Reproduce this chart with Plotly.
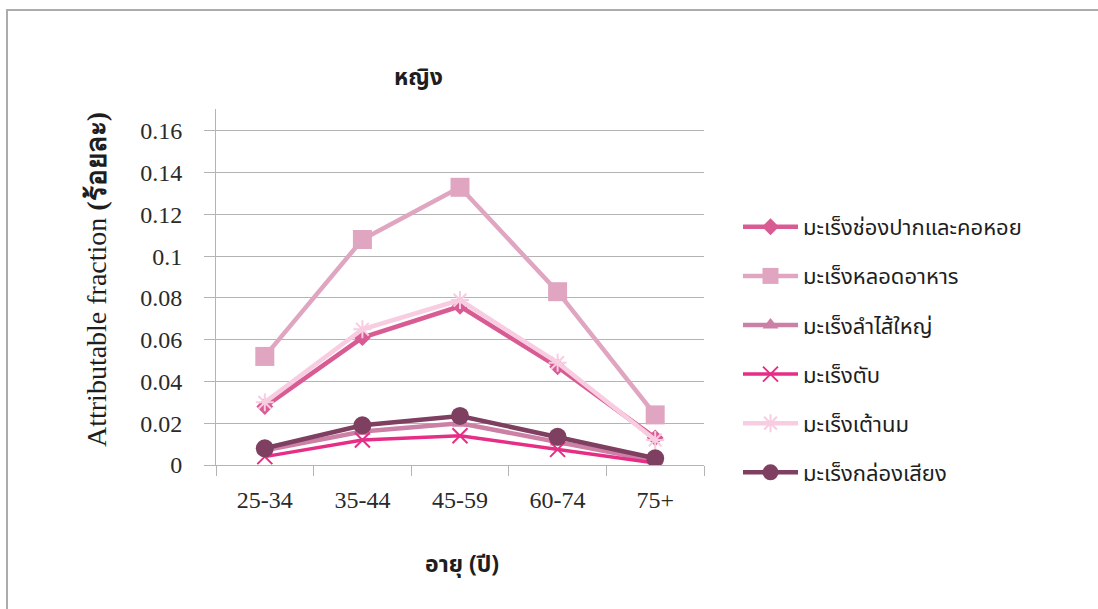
import plotly.graph_objects as go

categories = ["25-34", "35-44", "45-59", "60-74", "75+"]

series_names = [
    "มะเร็งช่องปากและคอหอย",
    "มะเร็งหลอดอาหาร",
    "มะเร็งลำไส้ใหญ่",
    "มะเร็งตับ",
    "มะเร็งเต้านม",
    "มะเร็งกล่องเสียง",
]

mouth_throat = [0.028, 0.061, 0.076, 0.047, 0.013]
esophagus = [0.052, 0.108, 0.133, 0.083, 0.024]
colorectal = [0.007, 0.016, 0.020, 0.011, 0.002]
liver = [0.004, 0.012, 0.014, 0.0075, 0.001]
breast = [0.030, 0.065, 0.079, 0.049, 0.012]
larynx = [0.008, 0.019, 0.0235, 0.0135, 0.0032]

y_ticks = [0, 0.02, 0.04, 0.06, 0.08, 0.1, 0.12, 0.14, 0.16]
y_tick_text = ["0", "0.02", "0.04", "0.06", "0.08", "0.1", "0.12", "0.14", "0.16"]

title_text = "หญิง"
x_title = "อายุ (ปี)"
y_title_latin = "Attributable fraction"
y_title_thai = "(ร้อยละ)"

THAI = "Tahoma, 'Noto Sans Thai', 'Noto Sans Thai UI', 'Noto Sans', 'DejaVu Sans', sans-serif"
SERIF = "'Liberation Serif', 'DejaVu Serif', serif"

styles = [
    dict(color="#D85C93", symbol="diamond", size=13, lw=4.5),
    dict(color="#E0A6C1", symbol="square", size=19, lw=4.5),
    dict(color="#CC80A6", symbol="triangle-up", size=14, lw=4.5),
    dict(color="#E62E87", symbol="x-thin-open", size=15, lw=3.5),
    dict(color="#F8CCE1", symbol="asterisk-open", size=15, lw=4.5),
    dict(color="#7E3F60", symbol="circle", size=18, lw=4.5),
]
values = [mouth_throat, esophagus, colorectal, liver, breast, larynx]

fig = go.Figure()
for i, (name, vals, st) in enumerate(zip(series_names, values, styles)):
    marker = dict(color=st["color"], symbol=st["symbol"], size=st["size"])
    if "open" in st["symbol"]:
        marker["line"] = dict(color=st["color"], width=2)
    fig.add_trace(go.Scatter(
        x=categories, y=vals, name=name, mode="lines+markers",
        line=dict(color=st["color"], width=st["lw"]),
        marker=marker, legendgroup=f"g{i}",
    ))

L, R, T, B = 216, 394, 109, 144
W, H = 1098, 609
pw, ph = W - L - R, H - T - B

def px(x):
    return (x - L) / pw

def py(y):
    return (H - B - y) / ph

fig.update_layout(
    width=W, height=H,
    margin=dict(l=L, r=R, t=T, b=B),
    paper_bgcolor="white", plot_bgcolor="white",
    showlegend=True,
    legend=dict(
        x=px(738), y=py(206), xanchor="left", yanchor="top",
        font=dict(family=THAI, size=22, color="#1E1E1E"),
        itemwidth=55, tracegroupgap=17.5, bgcolor="rgba(0,0,0,0)",
    ),
    xaxis=dict(
        type="category", range=[-0.5, 4.5],
        showline=True, linecolor="#B4B4B4", linewidth=1,
        ticks="outside", ticklen=10, tickcolor="#B4B4B4", tickson="boundaries",
        showgrid=False, zeroline=False,
        tickfont=dict(family=SERIF, size=24, color="#2A2A2A"),
        ticklabelstandoff=13,
    ),
    yaxis=dict(
        range=[0, 0.1705],
        tickvals=y_ticks, ticktext=y_tick_text,
        showline=True, linecolor="#B4B4B4", linewidth=1,
        ticks="outside", ticklen=11, tickcolor="#B4B4B4",
        showgrid=True, gridcolor="#B4B4B4", gridwidth=1, zeroline=False,
        tickfont=dict(family=SERIF, size=24, color="#2A2A2A"),
        ticklabelstandoff=17,
    ),
    shapes=[dict(
        type="rect", xref="paper", yref="paper",
        x0=px(7), x1=px(1105), y0=py(615), y1=py(10),
        line=dict(color="#ACACAC", width=2), fillcolor="rgba(0,0,0,0)", layer="below",
    )],
    annotations=[
        dict(text=f"<b>{title_text}</b>", xref="paper", yref="paper",
             x=px(418), y=py(78), showarrow=False, xanchor="center", yanchor="middle",
             font=dict(family=THAI, size=23, color="#1E1E1E")),
        dict(text=f"<b>{x_title}</b>", xref="paper", yref="paper",
             x=px(462), y=py(565), showarrow=False, xanchor="center", yanchor="middle",
             font=dict(family=THAI, size=23, color="#1E1E1E")),
        dict(text=f"{y_title_latin} <span style='font-family:{THAI};font-size:24px'><b>{y_title_thai}</b></span>",
             xref="paper", yref="paper", textangle=-90,
             x=px(96), y=py(280), showarrow=False, xanchor="center", yanchor="middle",
             font=dict(family=SERIF, size=28, color="#1E1E1E")),
    ],
)

fig.write_html("out.html")
